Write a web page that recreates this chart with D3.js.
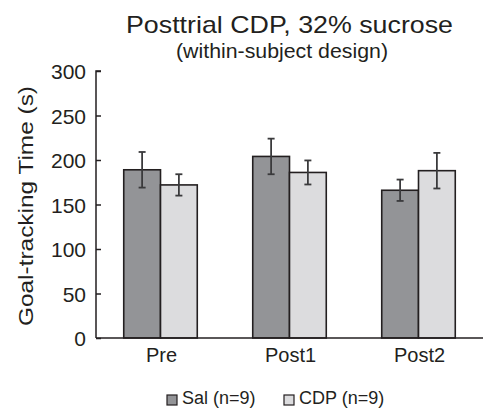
<!DOCTYPE html>
<html>
<head>
<meta charset="utf-8">
<script src="https://cdn.jsdelivr.net/npm/d3@7"></script>
<style>
  html, body { margin: 0; padding: 0; background: #fff; }
  svg { display: block; font-family: "Liberation Sans", Arial, Helvetica, sans-serif; }
</style>
</head>
<body>
<div id="chart"></div>
<script>
// Sessions and treatment groups
const sessions = ["Pre", "Post1", "Post2"];
const groups = ["Sal", "CDP"];
const groupLabels = ["Sal (n=9)", "CDP (n=9)"];

// Mean goal-tracking time (s) and SEM per session
const salMeans = [189, 204, 166];
const salErrors = [20, 20, 12];
const cdpMeans = [172, 186, 188];
const cdpErrors = [12, 13.5, 20];

const yTicks = [0, 50, 100, 150, 200, 250, 300];

const W = 484, H = 414;
const colors = { Sal: "#939497", CDP: "#dcdcde" };
const ink = "#231f20";

const rows = [];
sessions.forEach((s, i) => {
  rows.push({ session: s, group: "Sal", mean: salMeans[i], err: salErrors[i] });
  rows.push({ session: s, group: "CDP", mean: cdpMeans[i], err: cdpErrors[i] });
});

const svg = d3.select("#chart").append("svg")
  .attr("width", W).attr("height", H);

const x0 = d3.scaleBand().domain(sessions).range([96, 483])
  .paddingInner(0.43).paddingOuter(0.215);
const x1 = d3.scaleBand().domain(groups).range([0, x0.bandwidth()]);
const y = d3.scaleLinear().domain([0, 300]).range([338, 71]);

// Bars
svg.append("g").selectAll("rect").data(rows).join("rect")
  .attr("x", d => x0(d.session) + x1(d.group))
  .attr("y", d => y(d.mean))
  .attr("width", x1.bandwidth())
  .attr("height", d => y(0) - y(d.mean))
  .attr("fill", d => colors[d.group])
  .attr("stroke", ink)
  .attr("stroke-width", 1.6);

// Error bars
const eb = svg.append("g").attr("stroke", "#3a3a3c").attr("stroke-width", 1.8);
rows.forEach(d => {
  const cx = x0(d.session) + x1(d.group) + x1.bandwidth() / 2;
  const t = y(d.mean + d.err), b = y(d.mean - d.err);
  eb.append("line").attr("x1", cx).attr("x2", cx).attr("y1", t).attr("y2", b);
  eb.append("line").attr("x1", cx - 3.5).attr("x2", cx + 3.5).attr("y1", t).attr("y2", t);
  eb.append("line").attr("x1", cx - 3.5).attr("x2", cx + 3.5).attr("y1", b).attr("y2", b);
});

// Y axis with inward ticks
const yAxis = svg.append("g").attr("transform", "translate(96,0)")
  .call(d3.axisRight(y).tickValues(yTicks).tickSize(5).tickFormat(d3.format("d")));
yAxis.select(".domain").attr("d", "M5," + y(300) + "H0V" + y(0)).attr("stroke", ink).attr("stroke-width", 1.5);
yAxis.selectAll(".tick line").attr("stroke", ink).attr("stroke-width", 1.5);
yAxis.selectAll(".tick text")
  .attr("x", -10).attr("text-anchor", "end")
  .attr("font-size", 21).attr("font-family", "Liberation Sans, Arial, sans-serif")
  .attr("fill", ink).attr("dy", "0.36em");

// X axis baseline and labels
const xAxis = svg.append("g").attr("transform", "translate(0," + y(0) + ")")
  .call(d3.axisBottom(x0).tickSize(0).tickPadding(10));
xAxis.select(".domain").attr("d", "M96,0H483").attr("stroke", ink).attr("stroke-width", 1.5);
xAxis.selectAll(".tick text")
  .attr("font-size", 20).attr("font-family", "Liberation Sans, Arial, sans-serif")
  .attr("fill", ink).attr("dy", "0.71em").attr("dx", 1);

// Titles
svg.append("text").attr("x", 289.5).attr("y", 32.5).attr("text-anchor", "middle")
  .attr("font-size", 24).attr("fill", ink)
  .attr("textLength", 327).attr("lengthAdjust", "spacingAndGlyphs")
  .text("Posttrial CDP, 32% sucrose");
svg.append("text").attr("x", 282).attr("y", 57.5).attr("text-anchor", "middle")
  .attr("font-size", 20).attr("fill", ink)
  .attr("textLength", 212).attr("lengthAdjust", "spacingAndGlyphs")
  .text("(within-subject design)");

// Y axis title
svg.append("text").attr("transform", "translate(33,206) rotate(-90)")
  .attr("text-anchor", "middle").attr("font-size", 21).attr("fill", ink)
  .attr("textLength", 240).attr("lengthAdjust", "spacingAndGlyphs")
  .text("Goal-tracking Time (s)");

// Legend
const legendX = [167, 284];
const legend = svg.append("g");
groups.forEach((g, i) => {
  legend.append("rect").attr("x", legendX[i]).attr("y", 395)
    .attr("width", 10).attr("height", 10)
    .attr("fill", colors[g]).attr("stroke", ink).attr("stroke-width", 1.2);
  legend.append("text").attr("x", legendX[i] + 15).attr("y", 403.5)
    .attr("font-size", 18).attr("fill", ink).text(groupLabels[i]);
});
</script>
</body>
</html>
